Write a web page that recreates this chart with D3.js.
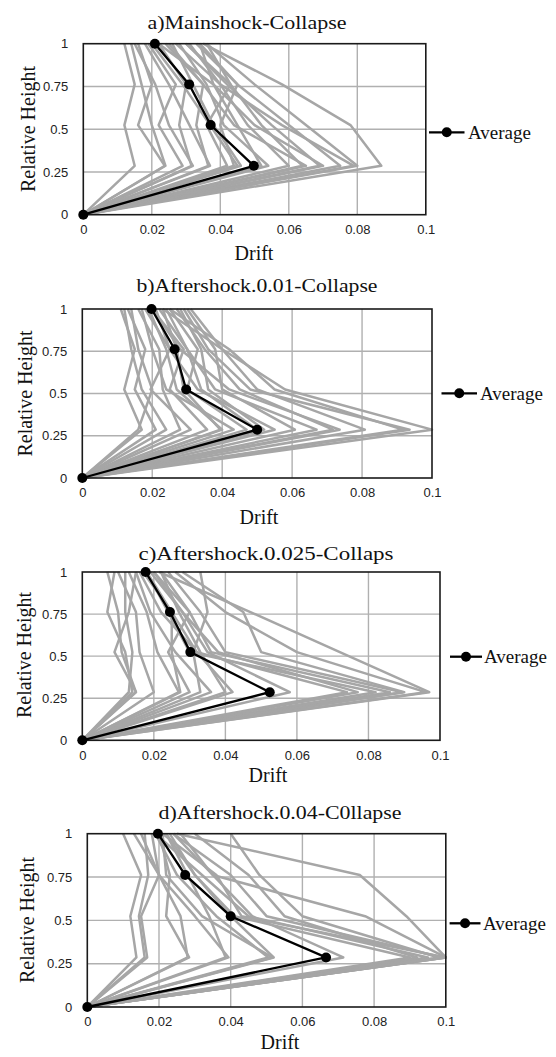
<!DOCTYPE html>
<html><head><meta charset="utf-8">
<script src="https://cdn.jsdelivr.net/npm/d3@7"></script>
<style>body{margin:0;background:#fff} svg{display:block}</style>
</head><body>
<svg id="chart" width="556" height="1057"></svg>
<script>
// ---------- data ----------
const relHeights = [0, 0.286, 0.524, 0.762, 1];
const xTickValues = [0, 0.02, 0.04, 0.06, 0.08, 0.1];
const xTickLabels = ["0", "0.02", "0.04", "0.06", "0.08", "0.1"];
const yTickValues = [0, 0.25, 0.5, 0.75, 1];
const yTickLabels = ["0", "0.25", "0.5", "0.75", "1"];
const panelTitles = ["a)Mainshock-Collapse", "b)Aftershock.0.01-Collapse", "c)Aftershock.0.025-Collaps", "d)Aftershock.0.04-C0llapse"];
const xAxisTitle = "Drift";
const yAxisTitle = "Relative Height";
const legendLabel = "Average";

// drift at relative heights 0.286, 0.524, 0.762, 1 (base drift is 0)
const runsA = [
  [0.015, 0.012, 0.015, 0.012], [0.024, 0.020, 0.017, 0.014], [0.0238, 0.016, 0.020, 0.016],
  [0.032, 0.025, 0.021, 0.015], [0.0316, 0.028, 0.030, 0.022], [0.037, 0.031, 0.025, 0.018],
  [0.0365, 0.033, 0.035, 0.024], [0.042, 0.036, 0.043, 0.030], [0.044, 0.040, 0.045, 0.033],
  [0.046, 0.038, 0.032, 0.026], [0.054, 0.041, 0.036, 0.028], [0.052, 0.045, 0.038, 0.034],
  [0.060, 0.048, 0.040, 0.031], [0.064, 0.052, 0.043, 0.036], [0.065, 0.044, 0.035, 0.025],
  [0.069, 0.055, 0.042, 0.030], [0.070, 0.050, 0.038, 0.022], [0.075, 0.060, 0.045, 0.034],
  [0.079, 0.058, 0.040, 0.027], [0.080, 0.065, 0.050, 0.036], [0.087, 0.078, 0.058, 0.035],
  [0.029, 0.022, 0.027, 0.019], [0.045, 0.037, 0.029, 0.020]
];
const avgA = [0.0498, 0.0372, 0.0309, 0.0209];

const runsB = [
  [0.017, 0.012, 0.015, 0.011], [0.021, 0.015, 0.018, 0.013], [0.016, 0.020, 0.016, 0.014],
  [0.028, 0.023, 0.022, 0.016], [0.031, 0.0195, 0.025, 0.018], [0.0357, 0.025, 0.029, 0.020],
  [0.0395, 0.029, 0.027, 0.023], [0.0433, 0.024, 0.020, 0.017], [0.047, 0.030, 0.033, 0.025],
  [0.050, 0.034, 0.030, 0.022], [0.052, 0.036, 0.034, 0.028], [0.055, 0.033, 0.025, 0.021],
  [0.0608, 0.040, 0.038, 0.030], [0.067, 0.038, 0.030, 0.024], [0.0717, 0.045, 0.035, 0.027],
  [0.0736, 0.042, 0.028, 0.020], [0.0808, 0.050, 0.040, 0.031], [0.0917, 0.055, 0.042, 0.025],
  [0.0936, 0.048, 0.036, 0.029], [0.100, 0.058, 0.040, 0.023], [0.024, 0.017, 0.014, 0.012],
  [0.040, 0.027, 0.024, 0.019]
];
const avgB = [0.050, 0.0297, 0.0264, 0.0198];

const runsC = [
  [0.014, 0.012, 0.007, 0.009], [0.015, 0.011, 0.010, 0.007], [0.013, 0.014, 0.012, 0.012],
  [0.015, 0.009, 0.013, 0.015], [0.027, 0.021, 0.018, 0.013], [0.0274, 0.025, 0.025, 0.018],
  [0.030, 0.024, 0.030, 0.020], [0.033, 0.031, 0.035, 0.033], [0.040, 0.033, 0.027, 0.022],
  [0.042, 0.032, 0.025, 0.017], [0.058, 0.035, 0.028, 0.019], [0.074, 0.032, 0.022, 0.016],
  [0.077, 0.038, 0.028, 0.020], [0.082, 0.030, 0.024, 0.018], [0.086, 0.036, 0.030, 0.022],
  [0.0895, 0.040, 0.033, 0.024], [0.090, 0.050, 0.045, 0.028], [0.097, 0.072, 0.047, 0.0215],
  [0.096, 0.060, 0.040, 0.026], [0.020, 0.016, 0.015, 0.010], [0.036, 0.026, 0.019, 0.015]
];
const avgC = [0.0524, 0.0302, 0.0245, 0.0177];

const runsD = [
  [0.0137, 0.012, 0.015, 0.010], [0.0167, 0.015, 0.020, 0.013], [0.016, 0.0144, 0.017, 0.016],
  [0.028, 0.026, 0.020, 0.018], [0.0284, 0.022, 0.023, 0.020], [0.0394, 0.030, 0.020, 0.015],
  [0.0386, 0.034, 0.028, 0.022], [0.0505, 0.036, 0.025, 0.019], [0.052, 0.040, 0.030, 0.023],
  [0.0516, 0.032, 0.022, 0.021], [0.0714, 0.046, 0.035, 0.026], [0.090, 0.041, 0.030, 0.022],
  [0.092, 0.055, 0.045, 0.030], [0.095, 0.045, 0.032, 0.019], [0.0993, 0.050, 0.040, 0.024],
  [0.100, 0.0775, 0.035, 0.024], [0.100, 0.089, 0.076, 0.025], [0.100, 0.043, 0.036, 0.021],
  [0.098, 0.060, 0.048, 0.040]
];
const avgD = [0.0666, 0.040, 0.0273, 0.0197];

// ---------- layout ----------
const panels = [
  {runs: runsA, avg: avgA, title: panelTitles[0], titleW: 199, L: 83.3, R: 425.8, T: 43.7, B: 214.7,
   titleX: 247, titleY: 22, yLabX: 28, yLabY: 129, driftX: 254, driftY: 253, legY: 132.3, legX0: 429, legX1: 464.5, legTx: 468},
  {runs: runsB, avg: avgB, title: panelTitles[1], titleW: 241, L: 82.3, R: 432, T: 309, B: 478,
   titleX: 257, titleY: 285, yLabX: 25, yLabY: 393.5, driftX: 259, driftY: 517, legY: 393.3, legX0: 441.5, legX1: 477, legTx: 480},
  {runs: runsC, avg: avgC, title: panelTitles[2], titleW: 255, L: 82.3, R: 440, T: 572, B: 740.3,
   titleX: 266, titleY: 553, yLabX: 24, yLabY: 655, driftX: 268, driftY: 775, legY: 656.7, legX0: 450, legX1: 482, legTx: 484},
  {runs: runsD, avg: avgD, title: panelTitles[3], titleW: 243, L: 87.3, R: 445.8, T: 833.7, B: 1007,
   titleX: 280, titleY: 812, yLabX: 27, yLabY: 920, driftX: 280, driftY: 1042, legY: 923.3, legX0: 449.6, legX1: 480.5, legTx: 483}
];

const svg = d3.select("#chart");
const serif = "'Liberation Serif', 'Times New Roman', serif";
const sans = "'Liberation Sans', Arial, sans-serif";
const GRAY = "#a6a6a6";

panels.forEach(p => {
  const x = d3.scaleLinear().domain([0, 0.1]).range([p.L, p.R]);
  const y = d3.scaleLinear().domain([0, 1]).range([p.B, p.T]);
  const g = svg.append("g");

  // grid
  g.append("g").selectAll("line").data(xTickValues.slice(1, -1)).join("line")
    .attr("x1", d => x(d)).attr("x2", d => x(d)).attr("y1", p.T).attr("y2", p.B)
    .attr("stroke", "#b0b0b0").attr("stroke-width", 1.4);
  g.append("g").selectAll("line").data(yTickValues.slice(1, -1)).join("line")
    .attr("x1", p.L).attr("x2", p.R).attr("y1", d => y(d)).attr("y2", d => y(d))
    .attr("stroke", "#b0b0b0").attr("stroke-width", 1.4);

  // axes (labels only)
  const xAxis = d3.axisBottom(x).tickValues(xTickValues).tickSize(0).tickPadding(10)
    .tickFormat((d, i) => xTickLabels[i]);
  const yAxis = d3.axisLeft(y).tickValues(yTickValues).tickSize(0).tickPadding(15)
    .tickFormat((d, i) => yTickLabels[i]);
  const gx = g.append("g").attr("transform", `translate(0,${p.B})`).call(xAxis);
  const gy = g.append("g").attr("transform", `translate(${p.L},0)`).call(yAxis);
  [gx, gy].forEach(a => {
    a.select(".domain").remove();
    a.selectAll("text").attr("font-family", sans).attr("font-size", 13).attr("fill", "#222");
  });

  // grey runs
  const line = d3.line().x(d => x(d[0])).y(d => y(d[1]));
  p.runs.forEach(r => {
    const pts = [[0, relHeights[0]]].concat(r.map((v, i) => [v, relHeights[i + 1]]));
    g.append("path").attr("d", line(pts)).attr("fill", "none")
      .attr("stroke", GRAY).attr("stroke-width", 2.5).attr("stroke-linejoin", "round");
  });

  // border
  g.append("rect").attr("x", p.L).attr("y", p.T).attr("width", p.R - p.L).attr("height", p.B - p.T)
    .attr("fill", "none").attr("stroke", "#1a1a1a").attr("stroke-width", 1.6);

  // average
  const avgPts = [[0, relHeights[0]]].concat(p.avg.map((v, i) => [v, relHeights[i + 1]]));
  g.append("path").attr("d", line(avgPts)).attr("fill", "none")
    .attr("stroke", "#000").attr("stroke-width", 2.3);
  g.append("g").selectAll("circle").data(avgPts).join("circle")
    .attr("cx", d => x(d[0])).attr("cy", d => y(d[1])).attr("r", 5).attr("fill", "#000");

  // titles
  g.append("text").attr("x", p.titleX).attr("y", p.titleY).attr("text-anchor", "middle")
    .attr("dominant-baseline", "central").attr("font-family", serif).attr("font-size", 19)
    .attr("textLength", p.titleW).attr("lengthAdjust", "spacingAndGlyphs")
    .attr("fill", "#111").text(p.title);
  g.append("text").attr("x", p.driftX).attr("y", p.driftY).attr("text-anchor", "middle")
    .attr("dominant-baseline", "central").attr("font-family", serif).attr("font-size", 20)
    .attr("fill", "#111").text(xAxisTitle);
  g.append("text").attr("transform", `translate(${p.yLabX},${p.yLabY}) rotate(-90)`)
    .attr("text-anchor", "middle").attr("dominant-baseline", "central")
    .attr("font-family", serif).attr("font-size", 20).attr("fill", "#111").text(yAxisTitle);

  // legend
  g.append("line").attr("x1", p.legX0).attr("x2", p.legX1).attr("y1", p.legY).attr("y2", p.legY)
    .attr("stroke", "#000").attr("stroke-width", 2.3);
  g.append("circle").attr("cx", (p.legX0 + p.legX1) / 2).attr("cy", p.legY).attr("r", 5).attr("fill", "#000");
  g.append("text").attr("x", p.legTx).attr("y", p.legY).attr("dominant-baseline", "central")
    .attr("font-family", serif).attr("font-size", 19).attr("fill", "#111").text(legendLabel);
});
</script>
</body></html>
